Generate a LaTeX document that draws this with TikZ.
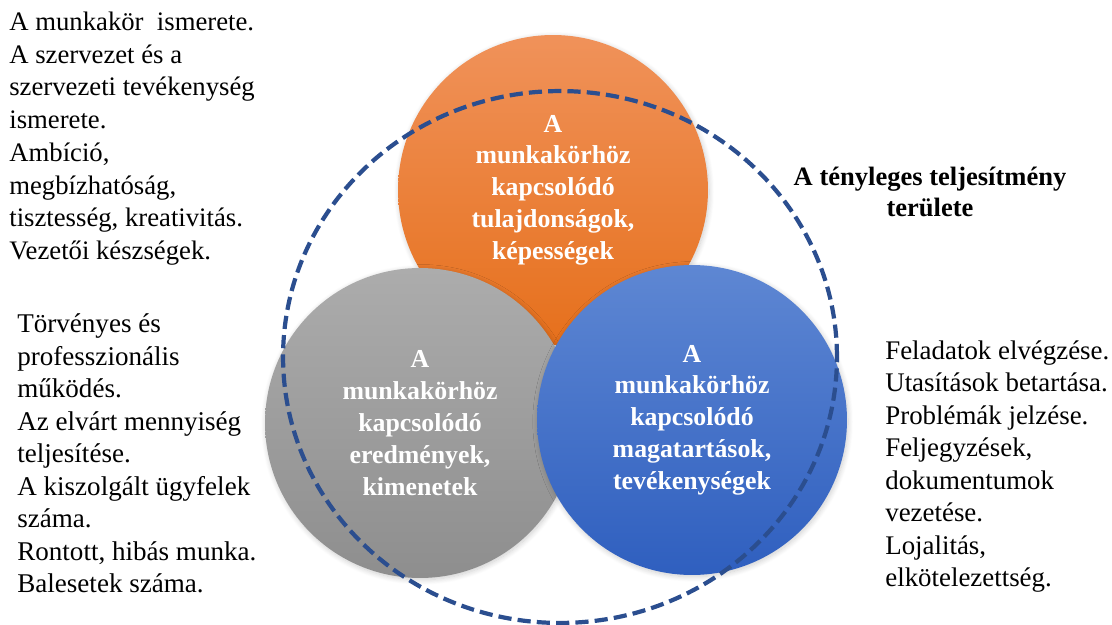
\documentclass[tikz,border=0pt]{standalone}
\usepackage{fontspec}
\setmainfont{Liberation Serif}
\usetikzlibrary{shapes.geometric,shadows.blur}

\definecolor{orTop}{HTML}{F0925A}
\definecolor{orBot}{HTML}{E6701C}
\definecolor{grTop}{HTML}{ACACAC}
\definecolor{grBot}{HTML}{8E8E8E}
\definecolor{blTop}{HTML}{5E87D3}
\definecolor{blBot}{HTML}{2F5FBF}
\definecolor{dashblue}{HTML}{2B4E8F}

\begin{document}
\begin{tikzpicture}[x=0.02cm, y=-0.02cm,
  bubble/.style={circle, minimum size=6.2cm, inner sep=0pt, align=center,
    text=white, font=\bfseries\fontsize{14.7}{18.1}\selectfont,
    blur shadow={shadow blur steps=10, shadow xshift=0.6pt, shadow yshift=-1pt,
      shadow blur radius=3pt, shadow opacity=20}},
  notes/.style={anchor=north west, inner sep=0pt, align=left},
  area/.style={ellipse, draw=dashblue, line width=2.4pt,
    dash pattern=on 7.5pt off 3.5pt, minimum width=11.08cm, minimum height=10.64cm}
]
\useasboundingbox (0,0) rectangle (1112,625);

% the three overlapping fields
\node[bubble, top color=orTop, bottom color=orBot] (traits) at (553,190)
  {A\\munkakörhöz\\kapcsolódó\\tulajdonságok,\\képességek};
\node[bubble, top color=grTop, bottom color=grBot] (results) at (420,423)
  {A\\munkakörhöz\\kapcsolódó\\eredmények,\\kimenetek};
\node[bubble, top color=blTop, bottom color=blBot] (behaviour) at (692,420)
  {A\\munkakörhöz\\kapcsolódó\\magatartások,\\tevékenységek};

% the area of actual performance
\node[area] (perf) at (560,357) {};
\node[align=center, font=\bfseries\fontsize{15.1}{18.1}\selectfont] (title) at (930,192)
  {A tényleges teljesítmény\\területe};

% explanatory lists
\node[notes, font=\fontsize{15.2}{18.65}\selectfont] (listA) at (9,11.5)
  {A munkakör\ \ ismerete.\\A szervezet és a\\szervezeti tevékenység\\ismerete.\\Ambíció,\\megbízhatóság,\\tisztesség, kreativitás.\\Vezetői készségek.};
\node[notes, font=\fontsize{15.4}{18.5}\selectfont] (listB) at (17,313.5)
  {Törvényes és\\professzionális\\működés.\\Az elvárt mennyiség\\teljesítése.\\A kiszolgált ügyfelek\\száma.\\Rontott, hibás munka.\\Balesetek száma.};
\node[notes, font=\fontsize{15.3}{18.5}\selectfont] (listC) at (885,340)
  {Feladatok elvégzése.\\Utasítások betartása.\\Problémák jelzése.\\Feljegyzések,\\dokumentumok\\vezetése.\\Lojalitás,\\elkötelezettség.};
\end{tikzpicture}
\end{document}
